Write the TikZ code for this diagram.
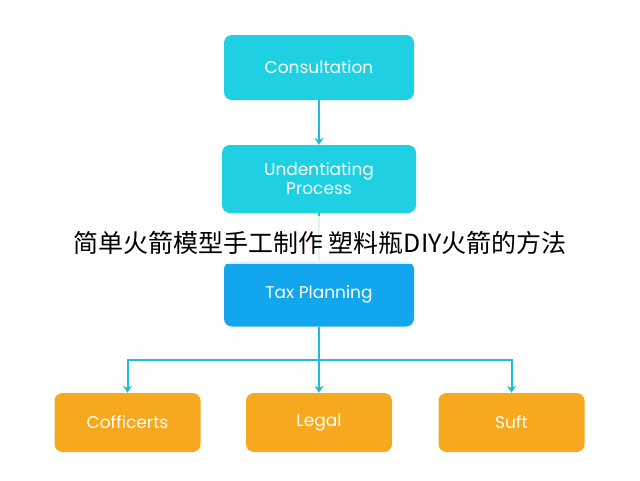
\documentclass[tikz,border=0pt]{standalone}
\usepackage{fontspec}
\setmainfont{Poppins}
\newfontfamily\cjk{Noto Sans CJK SC}
\usetikzlibrary{arrows.meta}
\definecolor{cy}{HTML}{1FD0E2}
\definecolor{bl}{HTML}{12A6EE}
\definecolor{og}{HTML}{F6A81E}
\definecolor{ln}{HTML}{20BCDC}
\begin{document}
\begin{tikzpicture}[x=1pt,y=-1pt,
  box/.style={rounded corners=8pt,minimum height=65pt,text=white,font=\fontsize{17}{19}\selectfont,align=center,inner sep=0pt},
  top/.style={box,fill=cy,minimum width=190pt},
  bot/.style={box,fill=og,minimum width=146pt,minimum height=59pt},
  con/.style={ln,line width=2pt,-{Stealth[length=7pt,width=9pt]}}]
\useasboundingbox (0,0) rectangle (640,480);
\fill[white] (0,0) rectangle (640,480);
\node[top] (c) at (319,67.5) {Consultation};
\node[top,minimum width=194pt,minimum height=68pt] (u) at (319,179) {Undentiating\\Process};
\node[top,fill=bl] (t) at (319,294) {Tax Planning};
\node[bot] (a) at (127.5,422.5) {Cofficerts};
\node[bot] (l) at (319,422.5) {Legal};
\node[bot] (s) at (511.5,422.5) {Suft};
\coordinate (j) at (319,360);
\draw[con] (c) -- (u);
\draw[ln,line width=2pt] (u) -- (t);
\draw[ln,line width=2pt] (t) -- (j);
\draw[con] (j) -| (a);
\draw[con] (j) -- (l);
\draw[con] (j) -| (s);
\fill[white,opacity=0.85] (0,216) rectangle (640,264);
\node[font=\cjk\fontsize{25}{27}\selectfont,text=black] (h) at (320,243) {简单火箭模型手工制作 塑料瓶DIY火箭的方法};
\end{tikzpicture}
\end{document}
